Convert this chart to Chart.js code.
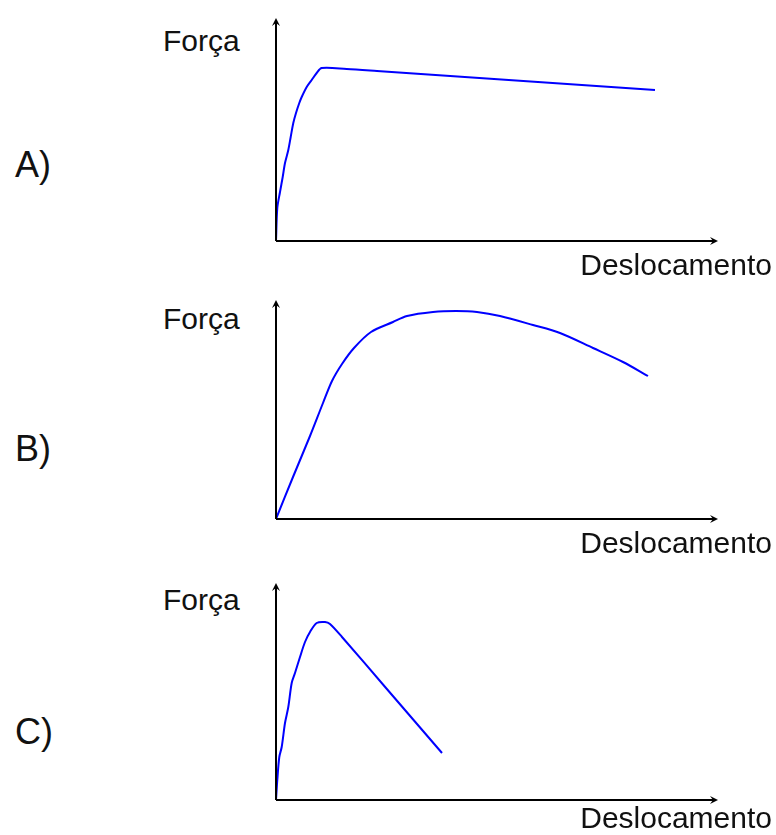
<!DOCTYPE html>
<html>
<head>
<meta charset="utf-8">
<script src="https://cdn.jsdelivr.net/npm/chart.js@4"></script>
<style>
  body { margin: 0; background: #fff; }
  #wrap { position: relative; width: 776px; height: 835px; overflow: hidden; }
  canvas { position: absolute; }
  .lbl {
    position: absolute;
    font-family: "Liberation Sans", Arial, sans-serif;
    color: #111;
    white-space: nowrap;
  }
  .forca, .desl { font-size: 30px; line-height: 30px; }
  .letra { font-size: 36px; line-height: 36px; left: 15px; }
  .forca { left: 163px; }
  .desl { right: 4px; }
</style>
</head>
<body>
<div id="wrap">
  <canvas id="chartA" width="470" height="243"></canvas>
  <canvas id="chartB" width="470" height="239"></canvas>
  <canvas id="chartC" width="470" height="237"></canvas>

  <div class="lbl letra" style="top:147px">A)</div>
  <div class="lbl letra" style="top:431px">B)</div>
  <div class="lbl letra" style="top:714px">C)</div>

  <div class="lbl forca" style="top:26px">Força</div>
  <div class="lbl forca" style="top:304px">Força</div>
  <div class="lbl forca" style="top:585px">Força</div>

  <div class="lbl desl" style="top:250px">Deslocamento</div>
  <div class="lbl desl" style="top:528px">Deslocamento</div>
  <div class="lbl desl" style="top:803px">Deslocamento</div>
</div>

<script>
// Curva A: sobe rápido e cai devagar
const dispA = [0, 1.3, 4, 6.7, 9, 12.3, 14.7, 17.3, 20, 23.3, 25.7, 30.7, 35.7, 40.7, 45.7, 70.7, 101, 379];
const forceA = [0, 33, 49, 64, 78, 91, 104, 118, 128, 138, 144, 154, 161, 168, 173, 172, 170, 151];

// Curva B: subida linear, pico arredondado
const dispB = [0, 17, 34, 47, 56, 66, 78, 95, 117, 131, 157, 180, 201, 224, 257, 284, 317, 347, 372];
const forceB = [0, 42, 83, 116, 138, 155, 171, 187, 197, 203, 207, 208, 207, 203, 194, 186, 171, 157, 143];

// Curva C: pico e queda rápida
const dispC = [0, 1.3, 3.3, 5.7, 9, 12.3, 15.7, 19, 24, 29, 34, 40.7, 49, 54, 66, 110, 166];
const forceC = [0, 20, 43, 53, 77, 93, 117, 127, 143, 158, 168, 177, 178, 176, 163, 112, 47];

// Eixos com setas, desenhados a partir das escalas
const axisArrows = {
  id: "axisArrows",
  afterDraw(chart) {
    const ctx = chart.ctx;
    const x = chart.scales.x;
    const y = chart.scales.y;
    const x0 = x.getPixelForValue(0);
    const y0 = y.getPixelForValue(0);
    const xEnd = x.getPixelForValue(x.max);
    const yTop = y.getPixelForValue(y.max);

    ctx.save();
    ctx.strokeStyle = "#000";
    ctx.fillStyle = "#000";
    ctx.lineWidth = 2;
    ctx.beginPath();
    ctx.moveTo(x0, y0);
    ctx.lineTo(xEnd - 2, y0);
    ctx.moveTo(x0, y0);
    ctx.lineTo(x0, yTop + 2);
    ctx.stroke();

    // ponta horizontal
    ctx.beginPath();
    ctx.moveTo(xEnd, y0);
    ctx.lineTo(xEnd - 8, y0 - 4);
    ctx.lineTo(xEnd - 5, y0);
    ctx.lineTo(xEnd - 8, y0 + 4);
    ctx.closePath();
    ctx.fill();

    // ponta vertical
    ctx.beginPath();
    ctx.moveTo(x0, yTop);
    ctx.lineTo(x0 - 4, yTop + 8);
    ctx.lineTo(x0, yTop + 5);
    ctx.lineTo(x0 + 4, yTop + 8);
    ctx.closePath();
    ctx.fill();
    ctx.restore();
  },
};

function makePanel(id, top, disp, force, yMax) {
  const canvas = document.getElementById(id);
  canvas.style.left = "262px";
  canvas.style.top = top + "px";
  new Chart(canvas.getContext("2d"), {
    type: "line",
    data: {
      datasets: [
        {
          data: disp.map((d, i) => ({ x: d, y: force[i] })),
          borderColor: "#0000ff",
          borderWidth: 2,
          pointRadius: 0,
          fill: false,
          tension: 0.3,
        },
      ],
    },
    options: {
      responsive: false,
      animation: false,
      layout: { padding: { left: 14, right: 14, top: 10, bottom: 10 } },
      plugins: { legend: { display: false }, tooltip: { enabled: false } },
      scales: {
        x: { type: "linear", min: 0, max: 442, display: false },
        y: { min: 0, max: yMax, display: false },
      },
    },
    plugins: [axisArrows],
  });
}

makePanel("chartA", 8, dispA, forceA, 223);
makePanel("chartB", 290, dispB, forceB, 219);
makePanel("chartC", 573, dispC, forceC, 217);
</script>
</body>
</html>
